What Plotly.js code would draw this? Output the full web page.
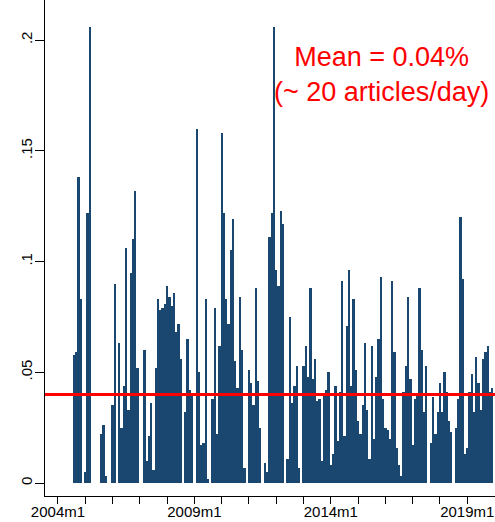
<!DOCTYPE html>
<html>
<head>
<meta charset="utf-8">
<script src="https://cdn.plot.ly/plotly-3.0.1.min.js"></script>
<style>html,body{margin:0;padding:0;background:#fff;}#chart{width:495px;height:522px;}</style>
</head>
<body>
<div id="chart"></div>
<script>
// Monthly share of articles (%), 2004m1 .. 2019m12
var startYear = 2004;
var shareValues = [
  0, 0, 0, 0, 0, 0, 0, 0.058, 0.059, 0.138, 0.083, 0,            // 2004
  0.005, 0.122, 0.206, 0, 0, 0, 0, 0.022, 0.026, 0.003, 0, 0,     // 2005
  0.035, 0.090, 0, 0.063, 0.025, 0.044, 0.106, 0.033, 0.095, 0.110, 0.132, 0.052, // 2006
  0, 0, 0.060, 0.010, 0.021, 0.036, 0.006, 0.052, 0.083, 0.078, 0.079, 0.081,     // 2007
  0.089, 0.084, 0.080, 0.086, 0.068, 0.072, 0.056, 0, 0.032, 0.065, 0.042, 0.040, // 2008
  0, 0.160, 0.050, 0.017, 0.018, 0.083, 0.002, 0, 0.038, 0.079, 0.022, 0.062,     // 2009
  0.158, 0.122, 0.083, 0.072, 0.105, 0.119, 0.055, 0.043, 0.084, 0.060, 0.007, 0, // 2010
  0.051, 0.045, 0.035, 0.088, 0.046, 0.025, 0, 0.009, 0.005, 0.111, 0.122, 0.206, // 2011
  0.096, 0.089, 0.123, 0.117, 0, 0.011, 0.075, 0.036, 0.044, 0.053, 0.007, 0,     // 2012
  0.053, 0.062, 0.048, 0.088, 0.047, 0.056, 0.037, 0.038, 0.010, 0.040, 0.042, 0.050, // 2013
  0.008, 0.013, 0.044, 0.019, 0.041, 0.091, 0.021, 0.071, 0.096, 0.044, 0.083, 0.051, // 2014
  0.028, 0.022, 0.035, 0.063, 0.033, 0.011, 0.062, 0.020, 0.048, 0.065, 0.093, 0.038, // 2015
  0.025, 0.024, 0.020, 0.091, 0.059, 0.016, 0.008, 0.003, 0.041, 0.053, 0.084, 0.047, // 2016
  0.017, 0.038, 0.040, 0.088, 0.060, 0.032, 0.053, 0, 0.018, 0.039, 0.022, 0.032,     // 2017
  0.045, 0.032, 0.050, 0.041, 0.028, 0.023, 0, 0.025, 0.038, 0.120, 0.092, 0.013,     // 2018
  0.016, 0.041, 0.049, 0.032, 0.057, 0.045, 0.033, 0.056, 0.059, 0.062, 0.041, 0.043  // 2019
];
var meanValue = 0.040;
var meanLabel = "Mean = 0.04%<br>(~ 20 articles/day)";
var tickYears = [2004, 2005, 2006, 2007, 2008, 2009, 2010, 2011, 2012, 2013, 2014, 2015, 2016, 2017, 2018, 2019];
var labeledYears = [2004, 2009, 2014, 2019];
var yTickValues = [0, 0.05, 0.1, 0.15, 0.2];
var yTickLabels = ["0", ".05", ".1", ".15", ".2"];

var monthIndex = shareValues.map(function (v, i) { return i; });
var monthLabels = shareValues.map(function (v, i) {
  return (startYear + Math.floor(i / 12)) + "m" + (i % 12 + 1);
});
var minorTickVals = tickYears.map(function (y) { return (y - startYear) * 12; });
var xTickVals = labeledYears.map(function (y) { return (y - startYear) * 12; });
var xTickText = labeledYears.map(function (y) { return y + "m1"; });

var font = "Liberation Sans, Arial, sans-serif";

var trace = {
  type: "bar",
  x: monthIndex,
  y: shareValues,
  text: monthLabels,
  textposition: "none",
  hoverinfo: "text+y",
  width: 1,
  marker: { color: "#1a476f", line: { width: 0 } }
};

var layout = {
  width: 495,
  height: 522,
  margin: { l: 45, r: 0, t: 0, b: 26, pad: 0 },
  paper_bgcolor: "#ffffff",
  plot_bgcolor: "#ffffff",
  showlegend: false,
  bargap: 0,
  font: { family: font, color: "#000000" },
  xaxis: {
    type: "linear",
    range: [-5.7, 192.2],
    tickmode: "array",
    tickvals: xTickVals,
    ticktext: xTickText,
    ticks: "outside",
    ticklen: 7,
    tickwidth: 1,
    tickcolor: "#000000",
    ticklabelstandoff: -5,
    minor: {
      tickmode: "array",
      tickvals: minorTickVals,
      ticks: "outside",
      ticklen: 7,
      tickwidth: 1,
      tickcolor: "#000000",
      showgrid: false
    },
    showline: true,
    linecolor: "#000000",
    linewidth: 1,
    showgrid: false,
    zeroline: false,
    tickfont: { family: font, size: 15, color: "#000000" }
  },
  yaxis: {
    range: [-0.00587, 0.2181],
    tickmode: "array",
    tickvals: yTickValues,
    ticktext: yTickLabels,
    tickangle: -90,
    ticks: "outside",
    ticklen: 9,
    tickwidth: 1,
    tickcolor: "#000000",
    ticklabelstandoff: -3,
    showline: true,
    linecolor: "#000000",
    linewidth: 1,
    showgrid: false,
    zeroline: false,
    tickfont: { family: font, size: 15, color: "#000000" }
  },
  shapes: [{
    type: "line",
    xref: "paper", x0: 0, x1: 1,
    yref: "y", y0: meanValue, y1: meanValue,
    line: { color: "#ff0000", width: 3 },
    layer: "above"
  }],
  annotations: [{
    xref: "paper", yref: "paper",
    x: 0.748, y: 0.849,
    xanchor: "center", yanchor: "middle",
    text: meanLabel,
    showarrow: false,
    align: "center",
    font: { family: font, size: 27, color: "#ff0000" }
  }]
};

Plotly.newPlot("chart", [trace], layout, { staticPlot: true, displayModeBar: false });
</script>
</body>
</html>
